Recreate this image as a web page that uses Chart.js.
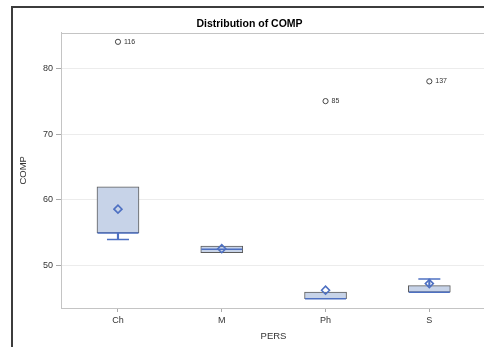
<!DOCTYPE html>
<html>
<head>
<meta charset="utf-8">
<script src="https://cdn.jsdelivr.net/npm/chart.js@4.4.1/dist/chart.umd.min.js"></script>
<style>
  html, body { margin: 0; padding: 0; background: #fff; width: 484px; height: 347px; overflow: hidden; }
  #frame { position: absolute; left: 11px; top: 6px; width: 540px; height: 360px;
           border-left: 2px solid #3c3c3c; border-top: 2px solid #3c3c3c; }
  #wrap { position: absolute; left: 0; top: 0; width: 524px; height: 339px; }
</style>
</head>
<body>
<div id="frame"><div id="wrap"><canvas id="c"></canvas></div></div>
<script>
// ---- data ----
const categories   = ['Ch', 'M', 'Ph', 'S'];
const q1Values     = [55, 52, 45, 46];
const q3Values     = [62, 53, 46, 47];
const medianValues = [55, 52.5, 45, 46];
const whiskerLow   = [54, 52, 45, 46];
const whiskerHigh  = [62, 53, 46, 48];
const meanValues   = [58.6, 52.6, 46.3, 47.3];
const outlierCats   = ['Ch', 'Ph', 'S'];
const outlierValues = [84, 75, 78];
const outlierLabels = ['116', '85', '137'];
const yTicks = [50, 60, 70, 80];

const FONT = "'Liberation Sans', Arial, sans-serif";
const BLUE = '#4e70c2';
const idx = c => categories.indexOf(c);

// whisker segments (only where they extend beyond the box)
const whiskerBars = [];
const whiskerCaps = [];
categories.forEach((c, i) => {
  if (whiskerLow[i] < q1Values[i]) {
    whiskerBars.push({x: i, y: [whiskerLow[i], q1Values[i]]});
    whiskerCaps.push({x: i, y: whiskerLow[i]});
  }
  if (whiskerHigh[i] > q3Values[i]) {
    whiskerBars.push({x: i, y: [q3Values[i], whiskerHigh[i]]});
    whiskerCaps.push({x: i, y: whiskerHigh[i]});
  }
});

const outlierLabelPlugin = {
  id: 'outlierLabels',
  afterDatasetsDraw(chart) {
    const dsIndex = chart.data.datasets.findIndex(d => d.label === 'Outliers');
    const meta = chart.getDatasetMeta(dsIndex);
    const ctx = chart.ctx;
    ctx.save();
    ctx.font = '7px ' + FONT;
    ctx.fillStyle = '#333';
    ctx.textBaseline = 'middle';
    ctx.textAlign = 'left';
    meta.data.forEach((el, i) => {
      ctx.fillText(outlierLabels[i], el.x + 6, el.y);
    });
    ctx.restore();
  }
};

const frameBorderPlugin = {
  id: 'plotFrame',
  beforeDatasetsDraw(chart) {
    const {ctx, chartArea: a} = chart;
    ctx.save();
    ctx.strokeStyle = '#c4c4c4';
    ctx.lineWidth = 1;
    ctx.strokeRect(Math.round(a.left) + 0.5, Math.round(a.top) + 0.5,
                   Math.round(a.right - a.left), Math.round(a.bottom - a.top));
    ctx.restore();
  }
};

new Chart(document.getElementById('c'), {
  type: 'bar',
  data: {
    datasets: [
      {
        label: 'Outliers', type: 'line', showLine: false, order: 0,
        data: outlierCats.map((c, i) => ({x: idx(c), y: outlierValues[i]})),
        pointStyle: 'circle', pointRadius: 2.6, pointBorderWidth: 1,
        pointBorderColor: '#444', pointBackgroundColor: 'rgba(0,0,0,0)'
      },
      {
        label: 'Mean', type: 'line', showLine: false, order: 1,
        data: meanValues.map((v, i) => ({x: i, y: v})),
        pointStyle: 'rectRot', pointRadius: 4, pointBorderWidth: 1.6,
        pointBorderColor: BLUE, pointBackgroundColor: 'rgba(0,0,0,0)'
      },
      {
        label: 'Caps', type: 'line', showLine: false, order: 2,
        data: whiskerCaps,
        pointStyle: 'line', pointRadius: 11, pointBorderWidth: 1.5,
        pointBorderColor: BLUE
      },
      {
        label: 'Median', type: 'line', showLine: false, order: 3,
        data: medianValues.map((v, i) => ({x: i, y: v})),
        pointStyle: 'line', pointRadius: 20.5, pointBorderWidth: 1.5,
        pointBorderColor: BLUE
      },
      {
        label: 'Whiskers', type: 'bar', order: 4, grouped: false,
        data: whiskerBars, barThickness: 1.5,
        backgroundColor: BLUE, borderWidth: 0
      },
      {
        label: 'Box', type: 'bar', order: 5, grouped: false,
        data: q1Values.map((v, i) => ({x: i, y: [v, q3Values[i]]})),
        barThickness: 42,
        backgroundColor: '#c7d3e8', borderColor: '#5c5c5c', borderWidth: 1,
        borderSkipped: false
      }
    ]
  },
  options: {
    responsive: true,
    maintainAspectRatio: false,
    animation: false,
    layout: { padding: { left: 0, right: 51, top: 0, bottom: 0 } },
    plugins: {
      legend: { display: false },
      tooltip: { enabled: false },
      title: {
        display: true, text: 'Distribution of COMP', color: '#000',
        font: { family: FONT, size: 10.5, weight: 'bold' },
        padding: { top: 10, bottom: 2 }
      }
    },
    scales: {
      x: {
        type: 'linear', min: -0.549, max: 3.546, offset: false,
        afterBuildTicks: s => { s.ticks = categories.map((c, i) => ({value: i})); },
        afterFit: s => { s.height = 39; },
        ticks: {
          callback: v => categories[v] ?? '',
          color: '#333', font: { family: FONT, size: 9 }, padding: 3,
          maxRotation: 0, autoSkip: false
        },
        grid: { offset: false, drawOnChartArea: false, drawTicks: true, tickLength: 4, tickColor: '#aaa' },
        border: { display: true, color: '#c4c4c4' },
        title: {
          display: true, text: 'PERS', color: '#333',
          font: { family: FONT, size: 9.5 }, padding: { top: 0, bottom: 5 }
        }
      },
      y: {
        type: 'linear', min: 43.6, max: 85.4,
        afterBuildTicks: s => { s.ticks = yTicks.map(v => ({value: v})); },
        afterFit: s => { s.width = 48; },
        ticks: {
          color: '#333', font: { family: FONT, size: 9 }, padding: 3
        },
        grid: { color: '#ececec', lineWidth: 1, drawTicks: true, tickLength: 5, tickColor: '#aaa' },
        border: { display: true, color: '#c4c4c4' },
        title: {
          display: true, text: 'COMP', color: '#333',
          font: { family: FONT, size: 9.5 }, padding: { top: 5, bottom: 0 }
        }
      }
    }
  },
  plugins: [frameBorderPlugin, outlierLabelPlugin]
});
</script>
</body>
</html>
